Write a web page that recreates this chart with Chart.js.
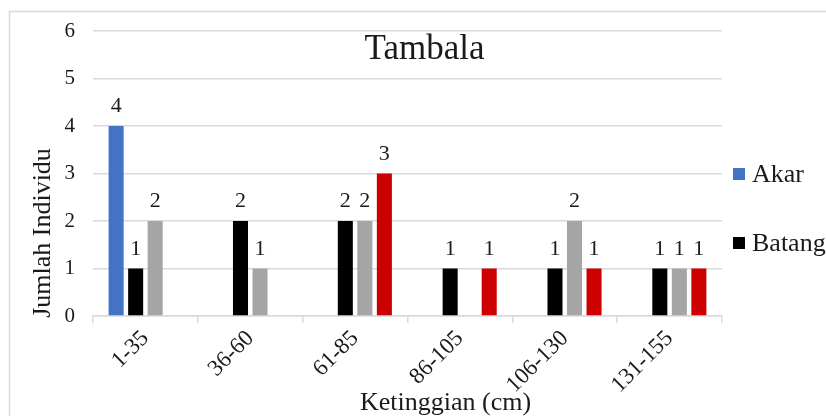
<!DOCTYPE html>
<html>
<head>
<meta charset="utf-8">
<script src="https://cdn.jsdelivr.net/npm/chart.js@4"></script>
<style>
  html, body { margin: 0; padding: 0; background: #fff; }
  #wrap { width: 826px; height: 416px; }
</style>
</head>
<body>
<div id="wrap"><canvas id="c" width="826" height="416"></canvas></div>
<script>
// Height classes (cm) and number of individuals per plant part
const categories = ['1-35', '36-60', '61-85', '86-105', '106-130', '131-155'];
const akar   = [4, 0, 0, 0, 0, 0];
const batang = [1, 2, 2, 1, 1, 1];
const cabang = [2, 1, 2, 0, 2, 1];
const daun   = [0, 0, 3, 1, 1, 1];
const yMin = 0, yMax = 6, yStep = 1;

const chartTitle = 'Tambala';
const xTitle = 'Ketinggian (cm)';
const yTitle = 'Jumlah Individu';
const legendCount = 2; // only the first entries fit in the frame

const SERIF = "'Liberation Serif', 'Times New Roman', serif";
const TEXT = '#1a1a1a';
const GRID = '#d9d9d9';

Chart.defaults.font.family = SERIF;
Chart.defaults.font.size = 21;
Chart.defaults.color = TEXT;

const decor = {
  id: 'decor',
  beforeDraw(chart) {
    const ctx = chart.ctx;
    ctx.save();
    ctx.fillStyle = '#fff';
    ctx.fillRect(0, 0, chart.width, chart.height);
    // outer frame (runs off the right and bottom edges)
    ctx.strokeStyle = GRID;
    ctx.lineWidth = 1.5;
    ctx.beginPath();
    ctx.moveTo(9.5, chart.height + 2);
    ctx.lineTo(9.5, 11.5);
    ctx.lineTo(chart.width + 2, 11.5);
    ctx.stroke();
    ctx.restore();
  },
  afterDatasetsDraw(chart) {
    const ctx = chart.ctx;
    ctx.save();
    ctx.font = '22px ' + SERIF;
    ctx.fillStyle = TEXT;
    ctx.textAlign = 'center';
    ctx.textBaseline = 'alphabetic';
    chart.data.datasets.forEach((ds, di) => {
      const meta = chart.getDatasetMeta(di);
      meta.data.forEach((bar, i) => {
        const v = ds.data[i];
        if (!v) return;
        ctx.fillText(String(v), bar.x, bar.y - 14);
      });
    });
    ctx.restore();
  },
  afterDraw(chart) {
    const ctx = chart.ctx;
    const area = chart.chartArea;
    ctx.save();
    ctx.fillStyle = TEXT;
    // chart title
    ctx.font = '35px ' + SERIF;
    ctx.textAlign = 'center';
    ctx.textBaseline = 'alphabetic';
    ctx.fillText(chartTitle, (area.left + area.right) / 2 + 17, 59);
    // x axis title
    ctx.font = '26px ' + SERIF;
    ctx.fillText(xTitle, (area.left + area.right) / 2 + 38, 410);
    // y axis title
    ctx.save();
    ctx.translate(50, 233);
    ctx.rotate(-Math.PI / 2);
    ctx.fillText(yTitle, 0, 0);
    ctx.restore();
    // legend
    ctx.font = '26px ' + SERIF;
    ctx.textAlign = 'left';
    ctx.textBaseline = 'middle';
    const mid = chart.height / 2 + 0.5;
    const gap = 69;
    const first = mid - gap * (legendCount - 1) / 2;
    for (let k = 0; k < legendCount; k++) {
      const ds = chart.data.datasets[k];
      const cy = first + k * gap;
      ctx.fillStyle = ds.backgroundColor;
      ctx.fillRect(area.right + 11, cy - 6, 12, 12);
      ctx.fillStyle = TEXT;
      ctx.fillText(ds.label, area.right + 30, cy + 1);
    }
    ctx.restore();
  }
};

const barOpts = { borderWidth: 0, categoryPercentage: 0.745, barPercentage: 0.77 };

new Chart(document.getElementById('c'), {
  type: 'bar',
  data: {
    labels: categories,
    datasets: [
      Object.assign({ label: 'Akar',   data: akar,   backgroundColor: '#4472c4' }, barOpts),
      Object.assign({ label: 'Batang', data: batang, backgroundColor: '#000000' }, barOpts),
      Object.assign({ label: 'Cabang', data: cabang, backgroundColor: '#a5a5a5' }, barOpts),
      Object.assign({ label: 'Daun',   data: daun,   backgroundColor: '#cc0000' }, barOpts)
    ]
  },
  options: {
    responsive: false,
    devicePixelRatio: 1,
    animation: false,
    layout: { padding: { top: 31, right: 104, bottom: 0, left: 0 } },
    plugins: {
      legend: { display: false },
      title: { display: false },
      tooltip: { enabled: false }
    },
    scales: {
      x: {
        grid: { drawOnChartArea: false, drawTicks: true, tickLength: 7, color: GRID, lineWidth: 1.5, offset: true },
        border: { display: true, color: GRID, width: 1.5 },
        ticks: {
          minRotation: 45, maxRotation: 45, autoSkip: false,
          padding: 2,
          color: TEXT,
          font: { family: SERIF, size: 23 }
        },
        afterFit(scale) { scale.height = 100; }
      },
      y: {
        min: yMin, max: yMax,
        grid: { color: GRID, lineWidth: 1.5, drawTicks: false },
        border: { display: false },
        ticks: {
          stepSize: yStep,
          padding: 18,
          color: TEXT,
          font: { family: SERIF, size: 21 }
        },
        afterFit(scale) { scale.width = 93; }
      }
    }
  },
  plugins: [decor]
});
</script>
</body>
</html>
